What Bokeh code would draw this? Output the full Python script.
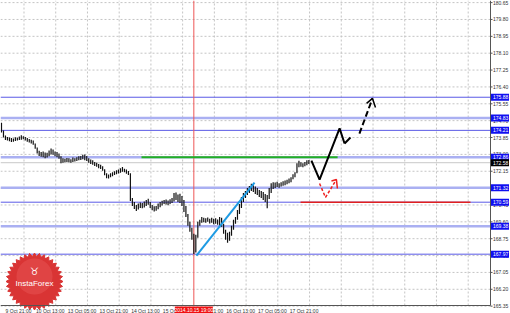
import numpy as np
from bokeh.plotting import figure
from bokeh.models import Range1d
from bokeh.embed import file_html
from bokeh.resources import INLINE
from bokeh.core.properties import value

# ---------------- data ----------------
bar_high = [174.60, 174.20, 173.95, 173.88, 173.85, 173.82, 173.80, 173.86, 173.84, 173.90,
            173.96, 173.92, 173.88, 173.82, 173.78, 173.74, 173.70, 173.55, 173.35, 173.18,
            173.12, 173.15, 173.10, 173.08, 173.20, 173.30, 173.25, 173.15, 173.12, 173.05,
            172.90, 172.80, 172.78, 172.82, 172.80, 172.76, 172.84, 172.80, 172.86, 172.90,
            172.92, 172.98, 173.00, 172.92, 172.80, 172.74, 172.70, 172.62, 172.58, 172.52,
            172.48, 172.40, 172.25, 172.05, 171.98, 172.05, 172.10, 172.15, 172.20, 172.24,
            172.30, 172.36, 172.28, 172.24, 172.16, 172.05, 170.80, 170.60, 170.45, 170.52,
            170.58, 170.55, 170.62, 170.70, 170.76, 170.60, 170.45, 170.38, 170.40, 170.52,
            170.60, 170.66, 170.70, 170.72, 170.68, 170.74, 170.80, 171.05, 171.08, 170.98,
            171.02, 170.90, 170.70, 170.40, 170.00, 169.60, 169.30, 169.00, 168.95, 169.60,
            169.70, 169.85, 169.80, 169.78, 169.82, 169.76, 169.80, 169.75, 169.78, 169.72,
            169.85, 169.80, 169.50, 169.20, 169.05, 169.10, 169.40, 169.70, 169.85, 170.20,
            170.50, 170.85, 171.05, 171.15, 171.30, 171.40, 171.52, 171.45, 171.38, 171.30,
            171.20, 171.15, 171.10, 171.00, 170.95, 171.30, 171.55, 171.60, 171.58, 171.62,
            171.55, 171.60, 171.65, 171.68, 171.72, 171.78, 171.85, 172.00, 172.10, 172.55,
            172.68, 172.60, 172.55, 172.62, 172.70, 172.72]
bar_low = [174.10, 173.85, 173.72, 173.70, 173.66, 173.62, 173.64, 173.68, 173.70, 173.72,
           173.74, 173.76, 173.70, 173.64, 173.60, 173.55, 173.48, 173.28, 173.05, 172.92,
           172.88, 172.85, 172.80, 172.84, 172.90, 173.00, 172.98, 172.90, 172.86, 172.78,
           172.55, 172.58, 172.60, 172.62, 172.60, 172.58, 172.62, 172.64, 172.66, 172.70,
           172.72, 172.76, 172.70, 172.66, 172.58, 172.52, 172.48, 172.42, 172.38, 172.30,
           172.26, 172.18, 171.95, 171.80, 171.78, 171.85, 171.90, 171.96, 172.00, 172.04,
           172.08, 172.12, 172.10, 172.02, 171.96, 170.65, 170.40, 170.25, 170.15, 170.22,
           170.30, 170.28, 170.32, 170.40, 170.46, 170.30, 170.18, 170.12, 170.16, 170.24,
           170.34, 170.42, 170.50, 170.48, 170.44, 170.50, 170.55, 170.62, 170.70, 170.60,
           170.55, 170.40, 170.10, 169.85, 169.40, 169.10, 168.70, 167.98, 168.05, 168.80,
           169.40, 169.55, 169.58, 169.55, 169.60, 169.52, 169.55, 169.48, 169.50, 169.45,
           169.40, 169.35, 169.00, 168.70, 168.55, 168.65, 168.90, 169.20, 169.50, 169.70,
           170.00, 170.30, 170.60, 170.80, 170.95, 171.05, 171.15, 171.10, 171.00, 170.95,
           170.85, 170.80, 170.70, 170.60, 170.28, 170.75, 171.05, 171.25, 171.30, 171.35,
           171.32, 171.38, 171.42, 171.45, 171.50, 171.55, 171.60, 171.75, 171.85, 172.05,
           172.35, 172.38, 172.35, 172.40, 172.45, 172.52]
last_price = 172.58

price_ticks = [165.35, 166.20, 167.05, 167.90, 168.75, 169.60, 170.45, 171.30, 172.15, 173.00,
               173.85, 174.70, 175.55, 176.40, 177.25, 178.10, 178.95, 179.80, 180.65]
price_tick_labels = ["165.35", "166.20", "167.05", "167.90", "168.75", "169.60", "170.45",
                     "171.30", "172.15", "173.00", "173.85", "174.70", "175.55", "176.40",
                     "177.25", "178.10", "178.95", "179.80", "180.65"]
date_tick_bars = [9.1, 25.1, 41.1, 57.1, 73.1, 89.1, 105.1, 121.1, 137.1, 153.1]
date_tick_labels = ["9 Oct 21:00", "10 Oct 13:00", "13 Oct 05:00", "13 Oct 21:00", "14 Oct 13:00",
                    "15 Oct 05:00", "15 Oct 21:00", "16 Oct 13:00", "17 Oct 05:00", "17 Oct 21:00"]
grid_bars = [11.85, 27.85, 43.85, 59.85, 75.85, 91.85, 107.85, 123.85, 139.85, 155.85,
             171.85, 187.85, 203.85, 219.85, 235.85]

levels_wide = [174.83, 172.86, 171.32, 169.38]
levels_thin = [175.88, 174.21, 170.59, 167.97]
marker_bar = 97.5
marker_label = "2014.10.15 19:00"

green_x = [71.1, 170.0]
green_price = 172.86
red_x = [151.3, 237.0]
red_price = 170.59
trend_x = [98.8, 128.1]
trend_y = [167.90, 171.58]

black_path_x = [156.8, 160.9, 171.0, 173.5]
black_path_y = [172.69, 171.73, 174.31, 173.55]
black_hook_x = [173.5, 176.5]
black_hook_y = [173.55, 173.85]
dash_x = [181.0, 187.6]
dash_y = [174.05, 175.82]
dash_head_x = [184.6, 187.6, 189.1]
dash_head_y = [175.57, 175.82, 175.36]
red_path_x = [160.9, 163.9, 169.4]
red_path_y = [171.53, 170.83, 171.73]
red_head_x = [166.9, 169.4, 169.9]
red_head_y = [171.66, 171.73, 171.28]

# ---------------- geometry (pixels per unit) ----------------
PX_X = 1.983          # pixels per bar
PX_Y = 19.84          # pixels per price unit
W, H = 510, 313
Y_TOP = 180.756
Y_BOT = Y_TOP - H / PX_Y
X_END = W / PX_X
X_AXIS = 490 / PX_X                 # price-axis line
Y_AXIS = Y_TOP - 305 / PX_Y         # time-axis line
FONT = "Liberation Sans"

p = figure(width=W, height=H, x_range=Range1d(0, X_END), y_range=Range1d(Y_BOT, Y_TOP),
           output_backend="svg", toolbar_location=None, min_border=0)
p.axis.visible = False
p.grid.visible = False
p.outline_line_color = None
p.background_fill_color = "white"
p.border_fill_color = "white"

# grid
p.segment(x0=0, y0=price_ticks, x1=X_AXIS, y1=price_ticks, line_color="#c4c4c4",
          line_dash="2 2", line_width=1)
p.segment(x0=grid_bars, y0=Y_AXIS, x1=grid_bars, y1=Y_TOP, line_color="#c4c4c4",
          line_dash="2 2", line_width=1)

# levels
p.segment(x0=0, y0=levels_wide, x1=X_AXIS, y1=levels_wide, line_color="#aab0f2", line_width=2.5)
p.segment(x0=0, y0=levels_thin, x1=X_AXIS, y1=levels_thin, line_color="#5a5ae6", line_width=1)
p.segment(x0=0, y0=last_price, x1=X_AXIS, y1=last_price, line_color="#c8c8c8", line_width=1)
p.segment(x0=marker_bar, y0=Y_AXIS, x1=marker_bar, y1=Y_TOP, line_color="#ee5555", line_width=1)

# logo (decoration)
cx, cy = 34 / PX_X, Y_TOP - 281 / PX_Y
ang = np.linspace(0, 2 * np.pi, 73)[:-1]
rad = np.where(np.arange(72) % 2 == 0, 28.5, 25.0)
lx = cx + rad * np.cos(ang) / PX_X
ly = cy + rad * np.sin(ang) / PX_Y
p.patch(lx, ly, fill_color="#d93434", line_color="#d93434")
p.scatter([cx], [cy + 5 / PX_Y], size=36, fill_color="#ee6464", line_color=None, fill_alpha=0.35)
p.text([cx], [cy - 2 / PX_Y], text=["InstaForex"], text_font=value(FONT), text_font_size="8px",
       text_color="white", text_align="center", text_baseline="middle")
p.text([cx], [cy + 10 / PX_Y], text=["\u2649"], text_font=value("DejaVu Sans"),
       text_font_size="10px", text_color="white", text_align="center", text_baseline="middle")

# horizontal signal lines
p.line(green_x, [green_price, green_price], line_color="#22b022", line_width=2)
p.line(red_x, [red_price, red_price], line_color="#e02020", line_width=1.5)

# price bars
xs = np.arange(len(bar_high)) + 0.5
p.segment(x0=xs, y0=bar_low, x1=xs, y1=bar_high, line_color="#111111", line_width=1.2)

# trend line
p.line(trend_x, trend_y, line_color="#1e9be3", line_width=2)

# forecasts
p.line(black_path_x, black_path_y, line_color="black", line_width=2)
p.line(black_hook_x, black_hook_y, line_color="black", line_width=2)
p.line(dash_x, dash_y, line_color="black", line_width=2, line_dash="6 3")
p.line(dash_head_x, dash_head_y, line_color="black", line_width=1.5)
p.line(red_path_x, red_path_y, line_color="#ee2020", line_width=1.5, line_dash="3 2")
p.line(red_head_x, red_head_y, line_color="#ee2020", line_width=1.5)

# axis lines and ticks
p.segment(x0=X_AXIS, y0=Y_AXIS, x1=X_AXIS, y1=Y_TOP, line_color="#555555", line_width=1)
p.segment(x0=0, y0=Y_AXIS, x1=X_AXIS, y1=Y_AXIS, line_color="#555555", line_width=1)
p.segment(x0=X_AXIS, y0=price_ticks, x1=X_AXIS + 2 / PX_X, y1=price_ticks,
          line_color="#555555", line_width=1)
p.text(x=X_AXIS, y=price_ticks, text=price_tick_labels, x_offset=2.5, text_font=value(FONT),
       text_font_size="5px", text_color="#333333", text_align="left", text_baseline="middle")
p.text(x=date_tick_bars, y=Y_AXIS, text=date_tick_labels, y_offset=2, text_font=value(FONT),
       text_font_size="5px", text_color="#333333", text_align="center", text_baseline="top")

# price boxes on the axis
box_x = X_AXIS + 9.5 / PX_X
all_levels = levels_wide + levels_thin
p.rect(x=box_x, y=all_levels, width=18, height=7, width_units="screen", height_units="screen",
       fill_color="#1010f0", line_color=None)
p.text(x=X_AXIS, y=all_levels, text=[f"{v:.2f}" for v in all_levels], x_offset=2.5,
       text_font=value(FONT), text_font_size="5px", text_color="white", text_align="left",
       text_baseline="middle")
p.rect(x=box_x, y=last_price, width=18, height=7, width_units="screen", height_units="screen",
       fill_color="#000000", line_color=None)
p.text(x=X_AXIS, y=[last_price], text=[f"{last_price:.2f}"], x_offset=2.5,
       text_font=value(FONT), text_font_size="5px", text_color="white", text_align="left",
       text_baseline="middle")

# date marker box
box_y = Y_AXIS - 4.5 / PX_Y
p.rect(x=marker_bar, y=box_y, width=38, height=7, width_units="screen", height_units="screen",
       fill_color="#f01010", line_color=None)
p.text(x=[marker_bar], y=[box_y], text=[marker_label], text_font=value(FONT),
       text_font_size="5px", text_color="white", text_align="center", text_baseline="middle")

open("out.html", "w").write(file_html(p, INLINE))
